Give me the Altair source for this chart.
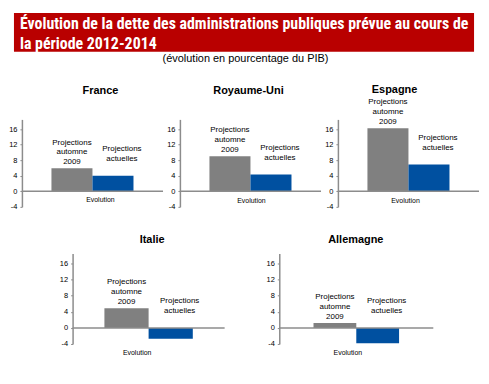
import altair as alt
import pandas as pd

# ---------------- data ----------------
countries = ["France", "Royaume-Uni", "Espagne", "Italie", "Allemagne"]
series = ["Projections automne 2009", "Projections actuelles"]
series_labels = ["Projections\nautomne\n2009", "Projections\nactuelles"]
automne_2009 = [5.9, 9.0, 16.2, 4.9, 1.2]
actuelles = [4.0, 4.3, 6.9, -2.7, -3.8]
category = ["Evolution"]
y_ticks = [-4, 0, 4, 8, 12, 16]
title_text = ("Évolution de la dette des administrations publiques prévue au cours de\n"
              "la période 2012-2014")
subtitle_text = "(évolution en pourcentage du PIB)"

# ---------------- style / layout ----------------
GRAY = "#808080"
BLUE = "#0050A0"
RED = "#B90000"
AXIS = "#8C8C8C"
FONT = "Liberation Sans"
NARROW = "Liberation Sans Narrow, Arial Narrow, Roboto Condensed, Liberation Sans"

# cell = layout width of the grid cell, plot = drawn width of the panel
layout = {
    "France":      dict(cell=51,  h=88, plot=142, po=0.72, tx=79, ty=-29, ex=79, ey=81),
    "Royaume-Uni": dict(cell=100, h=88, plot=142, po=0.72, tx=69, ty=-29, ex=72, ey=82),
    "Espagne":     dict(cell=142, h=88, plot=142, po=0.72, tx=57, ty=-30, ex=68, ey=82),
    "Italie":      dict(cell=108, h=91, plot=153, po=0.72, tx=80, ty=-14, ex=65, ey=100),
    "Allemagne":   dict(cell=59,  h=91, plot=155, po=0.80, tx=77, ty=-14, ex=69, ey=100),
}
one = pd.DataFrame({"z": [0]})


def y_scale():
    return alt.Scale(domain=[-4, 18.5], nice=False, zero=False)


def y_axis():
    return alt.Axis(values=y_ticks, title=None, grid=False,
                    domainColor=AXIS, domainWidth=1.5,
                    tickColor=AXIS, tickSize=2, tickWidth=1,
                    labelPadding=3, labelFont=FONT, labelFontSize=7.5,
                    labelColor="#000", labelFlush=False, labelOverlap=False,
                    labelExpr="datum.value + ''")


def panel(i):
    name = countries[i]
    L = layout[name]
    df = pd.DataFrame({
        "serie": series,
        "label": series_labels,
        "valeur": [automne_2009[i], actuelles[i]],
    })
    xs = alt.X("serie:N", sort=series, axis=None,
               scale=alt.Scale(domain=series, range=[0, L["plot"]],
                               paddingInner=0, paddingOuter=L["po"]))
    base = alt.Chart(df)
    bars = base.mark_bar().encode(
        x=xs,
        y=alt.Y("valeur:Q", scale=y_scale(), axis=y_axis()),
        y2=alt.datum(0),
        color=alt.Color("serie:N", scale=alt.Scale(domain=series, range=[GRAY, BLUE]),
                        legend=None),
    )
    rule = alt.Chart(one).mark_rule(color=AXIS, strokeWidth=1.5).encode(
        y=alt.Y("z:Q", scale=y_scale(), axis=y_axis()),
        x=alt.value(0), x2=alt.value(L["plot"]),
    )
    lbl_gray = base.transform_filter(alt.datum.serie == series[0]).mark_text(
        baseline="bottom", dy=-22, lineBreak="\n", lineHeight=10,
        font=FONT, fontSize=8, color="#000",
    ).encode(x=xs, y=alt.Y("valeur:Q", scale=y_scale(), axis=y_axis()), text="label:N")
    lbl_blue = base.transform_filter(alt.datum.serie == series[1]).transform_calculate(
        ly="max(datum.valeur, 0)"
    ).mark_text(
        baseline="bottom", dy=-23, dx=9, lineBreak="\n", lineHeight=10,
        font=FONT, fontSize=8, color="#000",
    ).encode(x=xs, y=alt.Y("ly:Q", scale=y_scale(), axis=y_axis()), text="label:N")
    ttl = alt.Chart(pd.DataFrame({"pays": [name]})).mark_text(
        font=FONT, fontSize=11, fontWeight="bold", baseline="middle", color="#000",
    ).encode(x=alt.value(L["tx"]), y=alt.value(L["ty"]), text="pays:N")
    evo = alt.Chart(pd.DataFrame({"cat": category})).mark_text(
        font=FONT, fontSize=7, baseline="middle", color="#000",
    ).encode(x=alt.value(L["ex"]), y=alt.value(L["ey"]), text="cat:N")

    layers = []
    if i == 0:
        anchor = alt.Chart(one).mark_rect(opacity=0).encode(
            x=alt.value(-12), x2=alt.value(-11), y=alt.value(-110), y2=alt.value(-109))
        banner = alt.Chart(one).mark_rect(color=RED).encode(
            x=alt.value(-8), x2=alt.value(455), y=alt.value(-107), y2=alt.value(-68))
        btxt = alt.Chart(pd.DataFrame({"t": [title_text]})).mark_text(
            align="left", baseline="middle", lineBreak="\n", lineHeight=20,
            font=NARROW, fontSize=16, fontWeight="bold", color="white",
        ).encode(x=alt.value(-2), y=alt.value(-96), text="t:N")
        stxt = alt.Chart(pd.DataFrame({"t": [subtitle_text]})).mark_text(
            align="center", baseline="middle", font=FONT, fontSize=11, color="#000",
        ).encode(x=alt.value(225), y=alt.value(-61), text="t:N")
        layers += [anchor, banner, btxt, stxt]
    layers += [bars, rule, lbl_gray, lbl_blue, ttl, evo]
    return alt.layer(*layers).properties(width=L["cell"], height=L["h"])


def spacer(w):
    return alt.Chart(one).mark_point(opacity=0).encode(
        x=alt.value(0), y=alt.value(0)).properties(width=w, height=1)


cells = [
    panel(0), spacer(108), panel(1), spacer(59), panel(2),
    spacer(51), panel(3), spacer(100), panel(4), spacer(1),
]

chart = alt.concat(
    *cells,
    columns=5,
    spacing={"row": 47, "column": 0},
    bounds="flush",
).properties(padding=0).configure_view(stroke="transparent")

chart.save("out.html", embed_options={"renderer": "svg", "actions": False})
